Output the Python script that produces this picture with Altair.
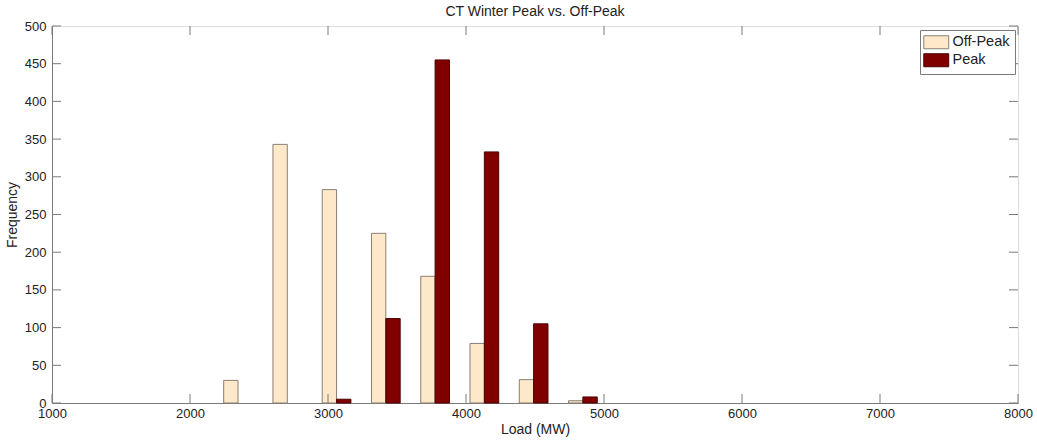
import altair as alt
import pandas as pd

# Histogram bin centres (MW) and counts per bin
bin_centers = [2348, 2705, 3062, 3419, 3776, 4133, 4490, 4847]
offpeak_counts = [30, 343, 283, 225, 168, 79, 31, 3]
peak_counts = [0, 0, 5, 112, 455, 333, 105, 8]
series = ["Off-Peak", "Peak"]

x_ticks = [1000, 2000, 3000, 4000, 5000, 6000, 7000, 8000]
y_ticks = [0, 50, 100, 150, 200, 250, 300, 350, 400, 450, 500]

BAR_W = 104  # width of one bar in MW; the pair sits side by side on the bin centre
FONT = "Liberation Sans"
AXIS_COL = "#7a7a7a"
TEXT_COL = "#222222"
W, H = 966, 377
TICK = 9

rows = []
for c, a, b in zip(bin_centers, offpeak_counts, peak_counts):
    if a > 0:
        rows.append({"series": "Off-Peak", "x0": c - BAR_W, "x1": c, "count": a})
    if b > 0:
        rows.append({"series": "Peak", "x0": c, "x1": c + BAR_W, "count": b})
bars_df = pd.DataFrame(rows)
xt_df = pd.DataFrame({"v": x_ticks})
yt_df = pd.DataFrame({"v": y_ticks})

xscale = alt.Scale(domain=[1000, 8000], nice=False, zero=False)
yscale = alt.Scale(domain=[0, 500], nice=False)

xaxis = alt.Axis(values=x_ticks, format="d", ticks=False, grid=False,
                 domainColor=AXIS_COL, labelPadding=4, labelFont=FONT,
                 labelFontSize=13, labelColor=TEXT_COL, title="Load (MW)",
                 titleFont=FONT, titleFontSize=14, titleFontWeight="normal",
                 titleColor=TEXT_COL, titlePadding=2, labelFlush=False)
yaxis = alt.Axis(values=y_ticks, format="d", ticks=False, grid=False,
                 domainColor=AXIS_COL, labelPadding=6, labelFont=FONT,
                 labelFontSize=13, labelColor=TEXT_COL, title="Frequency",
                 titleFont=FONT, titleFontSize=14, titleFontWeight="normal",
                 titleColor=TEXT_COL, titlePadding=5, labelFlush=False)

bars = alt.Chart(bars_df).mark_bar(strokeWidth=1).encode(
    x=alt.X("x0:Q", scale=xscale, axis=xaxis, title="Load (MW)"),
    x2="x1:Q",
    y=alt.Y("count:Q", scale=yscale, axis=yaxis, title="Frequency"),
    y2=alt.Y2(datum=0),
    fill=alt.Fill(
        "series:N",
        scale=alt.Scale(domain=series, range=["#fde8c9", "#800000"]),
        legend=alt.Legend(
            title=None, orient="none", legendX=868, legendY=4,
            symbolType="M-1.92,-1H1.92V1H-1.92Z", symbolSize=169,
            symbolStrokeColor="#7a7a7a", symbolStrokeWidth=1,
            symbolOpacity=1, symbolOffset=4,
            labelFont=FONT, labelFontSize=14.5, labelColor=TEXT_COL,
            labelOffset=9, rowPadding=0, padding=5,
            fillColor="white", strokeColor=AXIS_COL,
        ),
    ),
    stroke=alt.Stroke(
        "series:N",
        scale=alt.Scale(domain=series, range=["#8a7f74", "#4d0000"]),
        legend=None,
    ),
)

# Inward tick marks on all four sides of the frame
xt_bottom = alt.Chart(xt_df).mark_rule(color=AXIS_COL).encode(
    x=alt.X("v:Q", scale=xscale, axis=xaxis, title="Load (MW)"),
    y=alt.value(H), y2=alt.value(H - TICK))
xt_top = alt.Chart(xt_df).mark_rule(color=AXIS_COL).encode(
    x=alt.X("v:Q", scale=xscale, axis=xaxis, title="Load (MW)"),
    y=alt.value(0), y2=alt.value(TICK))
yt_left = alt.Chart(yt_df).mark_rule(color=AXIS_COL).encode(
    y=alt.Y("v:Q", scale=yscale, axis=yaxis, title="Frequency"),
    x=alt.value(0), x2=alt.value(TICK))
yt_right = alt.Chart(yt_df).mark_rule(color=AXIS_COL).encode(
    y=alt.Y("v:Q", scale=yscale, axis=yaxis, title="Frequency"),
    x=alt.value(W), x2=alt.value(W - TICK))

chart = alt.layer(bars, xt_bottom, xt_top, yt_left, yt_right).properties(
    width=W, height=H,
    title=alt.TitleParams("CT Winter Peak vs. Off-Peak", font=FONT, fontSize=14,
                          fontWeight="normal", color=TEXT_COL, offset=1),
    autosize=alt.AutoSizeParams(type="none"),
    padding={"left": 52, "top": 26, "right": 19, "bottom": 39},
).configure_view(stroke=AXIS_COL, strokeWidth=1).configure(background="white")

chart.save("out.html", embed_options={"renderer": "svg", "actions": False})
